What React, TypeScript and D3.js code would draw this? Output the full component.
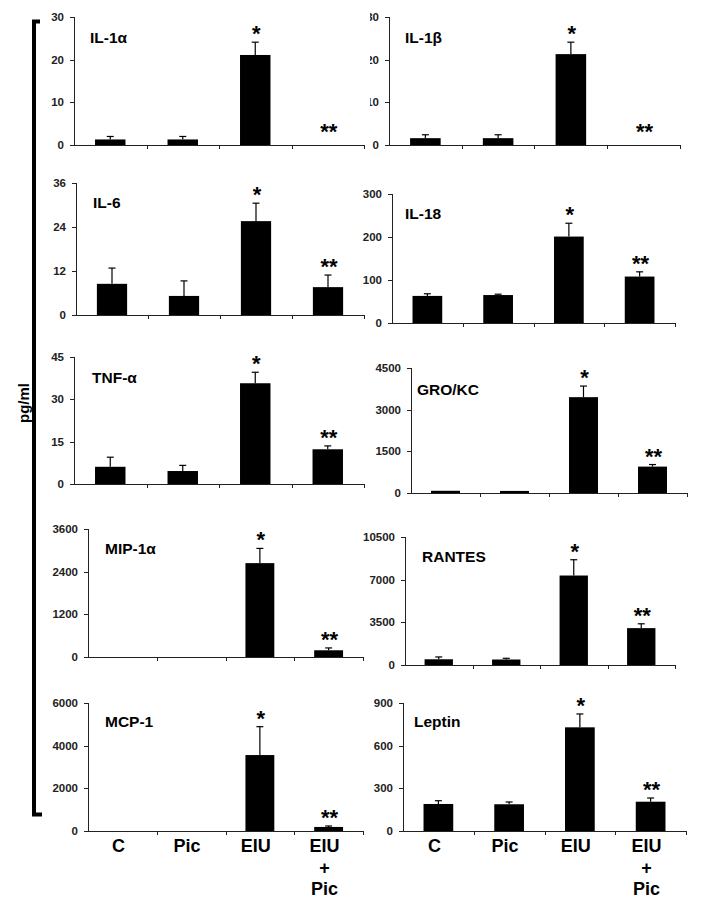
import * as d3 from "d3";

// groups on the x axis
const groups = ["C", "Pic", "EIU", "EIU+Pic"];
const groupLines = [["C"], ["Pic"], ["EIU"], ["EIU", "+", "Pic"]];
const stars = ["", "", "*", "**"];

// cytokines, panel order: left col then right col, row by row
const names = ["IL-1α", "IL-1β", "IL-6", "IL-18", "TNF-α", "GRO/KC", "MIP-1α", "RANTES", "MCP-1", "Leptin"];

// mean values (pg/ml)
const il1a = [1.3, 1.3, 21.1, 0];
const il1b = [1.6, 1.6, 21.3, 0];
const il6 = [8.5, 5.2, 25.6, 7.6];
const il18 = [63, 65, 201, 108];
const tnfa = [6.1, 4.6, 35.7, 12.3];
const grokc = [80, 75, 3450, 950];
const mip1a = [0, 0, 2640, 189];
const rantes = [470, 450, 7340, 3025];
const mcp1 = [0, 0, 3560, 190];
const leptin = [190, 188, 729, 206];

// upper error bars
const il1aErr = [0.7, 0.7, 3.0, 0];
const il1bErr = [0.8, 0.8, 2.8, 0];
const il6Err = [4.3, 4.1, 4.9, 3.3];
const il18Err = [5, 2, 31, 11];
const tnfaErr = [3.4, 2.0, 3.9, 1.2];
const grokcErr = [0, 0, 400, 75];
const mip1aErr = [0, 0, 414, 66];
const rantesErr = [190, 100, 1295, 355];
const mcp1Err = [0, 0, 1330, 45];
const leptinErr = [23, 16, 94, 26];

const means = [il1a, il1b, il6, il18, tnfa, grokc, mip1a, rantes, mcp1, leptin];
const errs = [il1aErr, il1bErr, il6Err, il18Err, tnfaErr, grokcErr, mip1aErr, rantesErr, mcp1Err, leptinErr];

// y axis ranges / tick steps
const yMax = [30, 30, 36, 300, 45, 4500, 3600, 10500, 6000, 900];
const yStep = [10, 10, 12, 100, 15, 1500, 1200, 3500, 2000, 300];

// panel frames (pixels): axis x, axis end, top tick, zero line, title pos
const frames = [
  { x0: 74, x1: 364, top: 17, zero: 145, tx: 90, ty: 43 },
  { x0: 389, x1: 680, top: 17, zero: 145, tx: 405, ty: 43 },
  { x0: 76, x1: 364, top: 183, zero: 315, tx: 93, ty: 208 },
  { x0: 392, x1: 675, top: 194, zero: 323, tx: 405, ty: 219 },
  { x0: 74, x1: 364, top: 357, zero: 484, tx: 92, ty: 383 },
  { x0: 411, x1: 687, top: 368, zero: 493, tx: 417, ty: 395 },
  { x0: 88, x1: 363, top: 529, zero: 657, tx: 105, ty: 554 },
  { x0: 405, x1: 675, top: 537, zero: 665, tx: 422, ty: 562 },
  { x0: 88, x1: 363, top: 703, zero: 831, tx: 105, ty: 727 },
  { x0: 403, x1: 686, top: 703, zero: 831, tx: 414, ty: 727 },
];

const FONT = "'Liberation Sans', Arial, sans-serif";

function Panel({ i }: { i: number }) {
  const f = frames[i];
  const x = d3.scaleBand().domain(groups).range([f.x0, f.x1]).paddingInner(0.58).paddingOuter(0.29);
  const y = d3.scaleLinear().domain([0, yMax[i]]).range([f.zero, f.top]);
  const ticks = d3.range(0, yMax[i] + 1, yStep[i]);
  const pad = (x.step() - x.bandwidth()) / 2;
  const clip = i === 1 ? "url(#cut)" : undefined;
  const bottomRow = i >= 8;

  return (
    <g>
      {/* y axis */}
      <line x1={f.x0 + 0.5} x2={f.x0 + 0.5} y1={f.top} y2={f.zero} stroke="#222" />
      <g clipPath={clip}>
        {ticks.map((t) => (
          <g key={t}>
            <line x1={f.x0 - 4} x2={f.x0} y1={Math.round(y(t)) + 0.5} y2={Math.round(y(t)) + 0.5} stroke="#222" />
            <text x={f.x0 - 10} y={y(t) + 4} textAnchor="end" fontSize={11.5} fontWeight="bold" fill="#222">
              {t}
            </text>
          </g>
        ))}
      </g>
      {/* x axis */}
      <line x1={f.x0} x2={f.x1} y1={f.zero + 0.5} y2={f.zero + 0.5} stroke="#222" />
      {groups.map((g) => {
        const bx = Math.round(x(g)! + x.bandwidth() + pad) + 0.5;
        return <line key={g} x1={bx} x2={bx} y1={f.zero} y2={f.zero + 4} stroke="#222" />;
      })}
      {/* bars + error bars */}
      {groups.map((g, j) => {
        const v = means[i][j];
        const cx = x(g)! + x.bandwidth() / 2;
        const top = y(v + errs[i][j]);
        return (
          <g key={g}>
            {v > 0 && (
              <rect x={x(g)} y={y(v)} width={x.bandwidth()} height={f.zero - y(v)} fill="#000" />
            )}
            {errs[i][j] > 0 && (
              <g stroke="#000" strokeWidth={1.2}>
                <line x1={cx} x2={cx} y1={y(v)} y2={top} />
                <line x1={cx - 3.5} x2={cx + 3.5} y1={top} y2={top} />
              </g>
            )}
            {stars[j] && (
              <text x={cx + 1} y={v > 0 ? top - 1 : f.zero - 6} textAnchor="middle" fontSize={22} fontWeight="bold">
                {stars[j]}
              </text>
            )}
          </g>
        );
      })}
      <text x={f.tx} y={f.ty} fontSize={15.5} fontWeight="bold">
        {names[i]}
      </text>
      {bottomRow &&
        groups.map((g, j) => (
          <text key={g} x={x(g)! + x.bandwidth() / 2 - 4} y={f.zero + 21} textAnchor="middle" fontSize={18} fontWeight="bold">
            {groupLines[j].map((s, k) => (
              <tspan key={k} x={x(g)! + x.bandwidth() / 2 - 4} dy={k === 0 ? 0 : 21.5}>
                {s}
              </tspan>
            ))}
          </text>
        ))}
    </g>
  );
}

export default function App() {
  return (
    <svg
      width={701}
      height={909}
      style={{ position: "absolute", left: 0, top: 0, background: "#fff", fontFamily: FONT }}
    >
      <defs>
        <clipPath id="cut">
          <rect x={370} y={0} width={40} height={160} />
        </clipPath>
      </defs>
      <rect width={701} height={909} fill="#fff" />
      {/* left bracket */}
      <path d="M40,21.5 H34 V814.5 H42" fill="none" stroke="#000" strokeWidth={4} />
      <text transform="translate(29,403) rotate(-90)" textAnchor="middle" fontSize={15} fontWeight="bold">
        pg/ml
      </text>
      {names.map((_, i) => (
        <Panel key={i} i={i} />
      ))}
    </svg>
  );
}
